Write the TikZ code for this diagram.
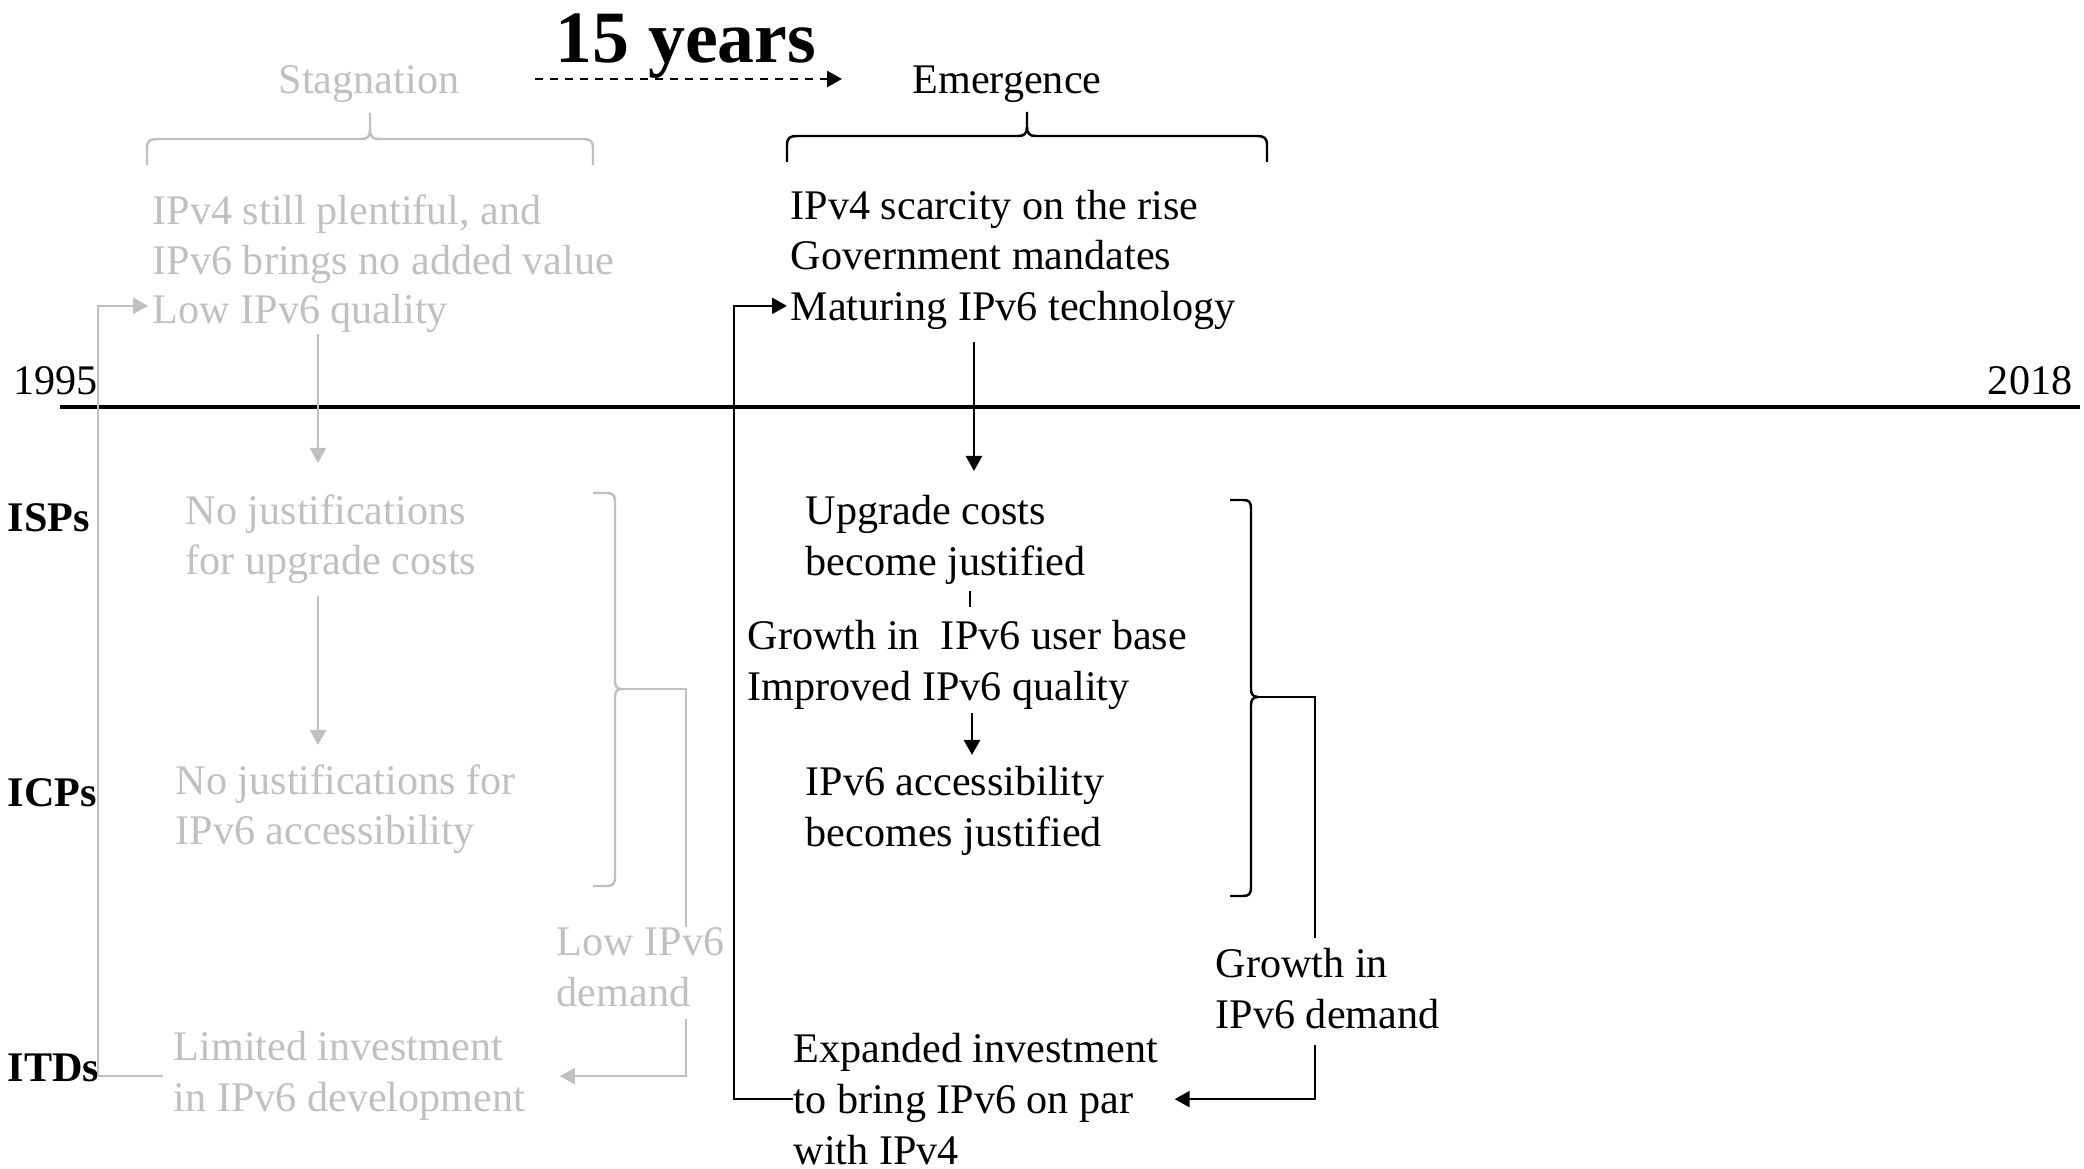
\documentclass[tikz,border=0pt]{standalone}
\usepackage{fontspec}
\setmainfont{Liberation Serif}
\usetikzlibrary{arrows.meta}

\definecolor{fadegray}{RGB}{192,192,192}
\newcommand{\fs}{\fontsize{12}{14.4}\selectfont}

\begin{document}
\begin{tikzpicture}[
    x=0.1mm, y=-0.1mm,
    txt/.style={font=\fs, inner sep=0pt, align=left, anchor=north west},
    gtxt/.style={txt, text=fadegray},
    lbl/.style={font=\fs\bfseries, inner sep=0pt, anchor=base west},
    ln/.style={line width=0.7pt},
    gln/.style={ln, draw=fadegray},
    arr/.style={-{Triangle[length=1.5mm, width=1.6mm]}}
]
    \useasboundingbox (0,0) rectangle (2084,1169);

    % 1. Linha do tempo
    \node[font=\fs, inner sep=0pt, anchor=base west] (y1995) at (13,395) {1995};
    \node[font=\fs, inner sep=0pt, anchor=base east] (y2018) at (2073,395) {2018};
    \coordinate (tl0) at (60,407);
    \coordinate (tl1) at (2080,407);
    \draw[line width=0.9pt] (tl0) -- (tl1);

    % 2. Atores
    \node[lbl] (isps) at (7,532) {ISPs};
    \node[lbl] (icps) at (7,807) {ICPs};
    \node[lbl] (itds) at (7,1082) {ITDs};

    % 3. Titulos das fases
    \node[gtxt, anchor=base] (stag) at (369,94) {Stagnation};
    \node[txt, anchor=base] (emer) at (1007,94) {Emergence};
    \node[font=\fontsize{21}{25}\selectfont\bfseries, inner sep=0pt, anchor=base] (span) at (686,63) {15 years};
    \coordinate (spanL) at (535,79);
    \coordinate (spanR) at (842,79);
    \draw[ln, arr, dash pattern=on 0.8mm off 0.7mm] (spanL) -- (spanR);

    % 4. Chaves de cima
    \draw[gln] (147,165) -- (147,148) .. controls (147,141) and (150,139) .. (157,139)
        -- (361,139) .. controls (367,139) and (370,137) .. (370,130) -- (370,113);
    \draw[gln] (593,165) -- (593,148) .. controls (593,141) and (590,139) .. (583,139)
        -- (379,139) .. controls (373,139) and (370,137) .. (370,130);
    \draw[ln] (787,162) -- (787,145) .. controls (787,138) and (790,136) .. (797,136)
        -- (1018,136) .. controls (1024,136) and (1027,134) .. (1027,127) -- (1027,112);
    \draw[ln] (1267,162) -- (1267,145) .. controls (1267,138) and (1264,136) .. (1257,136)
        -- (1036,136) .. controls (1030,136) and (1027,134) .. (1027,127);

    % 5. Fase de estagnacao (cinza)
    \node[gtxt] (stagA) at (152,194) {IPv4 still plentiful, and\\IPv6 brings no added value};
    \node[gtxt] (stagB) at (152,294) {Low IPv6 quality};
    \node[gtxt] (ispOld) at (185,494) {No justifications\\for upgrade costs};
    \node[gtxt] (icpOld) at (175,764) {No justifications for\\IPv6 accessibility};
    \node[gtxt] (itdOld) at (173,1031) {Limited investment\\in IPv6 development};
    \node[gtxt] (lowDemand) at (556,927) {Low IPv6\\demand};

    % 6. Fase de emergencia (preto)
    \node[txt] (emA) at (790,190) {IPv4 scarcity on the rise};
    \node[txt] (emB) at (790,240) {Government mandates};
    \node[txt] (emC) at (790,291) {Maturing IPv6 technology};
    \node[txt] (ispNew) at (805,495) {Upgrade costs\\become justified};
    \node[txt] (growth) at (747,620) {Growth in\ \ IPv6 user base\\Improved IPv6 quality};
    \node[txt] (icpNew) at (805,766) {IPv6 accessibility\\becomes justified};
    \node[txt] (growDemand) at (1215,948) {Growth in\\IPv6 demand};
    \node[txt] (itdNew) at (793,1033) {Expanded investment\\to bring IPv6 on par\\with IPv4};

    % 7. Colchetes laterais
    \draw[gln] (593,493) -- (606,493) .. controls (613,493) and (615,495) .. (615,502)
        -- (615,681) .. controls (615,686) and (617,689) .. (621,689);
    \draw[gln] (593,886) -- (606,886) .. controls (613,886) and (615,884) .. (615,877)
        -- (615,697) .. controls (615,692) and (617,689) .. (621,689);
    \coordinate (gtip) at (621,689);
    \draw[ln] (1230,500) -- (1243,500) .. controls (1249,500) and (1251,502) .. (1251,509)
        -- (1251,689) .. controls (1251,694) and (1253,697) .. (1258,697);
    \draw[ln] (1230,896) -- (1243,896) .. controls (1249,896) and (1251,894) .. (1251,887)
        -- (1251,705) .. controls (1251,700) and (1253,697) .. (1258,697);
    \coordinate (btip) at (1258,697);

    % 8. Setas verticais
    \coordinate (gcol) at (318,0);
    \coordinate (bcol) at (974,0);
    \coordinate (tcol) at (970,0);
    \coordinate (bcol2) at (972,0);
    \draw[gln, arr, shorten >=3.1mm] (stagB.south -| gcol) -- (ispOld.north -| gcol);
    \draw[gln, arr, shorten <=1.1mm, shorten >=1.9mm] (ispOld.south -| gcol) -- (icpOld.north -| gcol);
    \draw[ln, arr, shorten <=1.1mm, shorten >=2.4mm] (emC.south -| bcol) -- (ispNew.north -| bcol);
    \draw[ln, shorten <=0.6mm, shorten >=1.3mm] (ispNew.south -| tcol) -- (growth.north -| tcol);
    \draw[ln, arr, shorten <=0.3mm, shorten >=1.1mm] (growth.south -| bcol2) -- (icpNew.north -| bcol2);

    % 9. Demanda
    \coordinate (gturn) at (686,689);
    \draw[gln] (gtip) -- (gturn) -- (gturn |- lowDemand.north);
    \draw[gln, arr, shorten <=1.2mm, shorten >=3.4mm] (gturn |- lowDemand.south) |- (itdOld.east);
    \coordinate (bturn) at (1315,697);
    \draw[ln, shorten >=1mm] (btip) -- (bturn) -- (bturn |- growDemand.north);
    \draw[ln, arr, shorten <=1.5mm, shorten >=1.6mm] (bturn |- growDemand.south) |- (itdNew.east);

    % 10. Realimentacao
    \coordinate (gloop) at (98,0);
    \draw[gln, arr, shorten <=1mm, shorten >=0.4mm] (itdOld.west) -- (itdOld.west -| gloop)
        |- ([yshift=0.8mm]stagB.west);
    \coordinate (bloop) at (734,0);
    \draw[ln, arr, shorten >=0.3mm] (itdNew.west) -- (itdNew.west -| bloop)
        |- ([yshift=0.5mm]emC.west);

\end{tikzpicture}
\end{document}
